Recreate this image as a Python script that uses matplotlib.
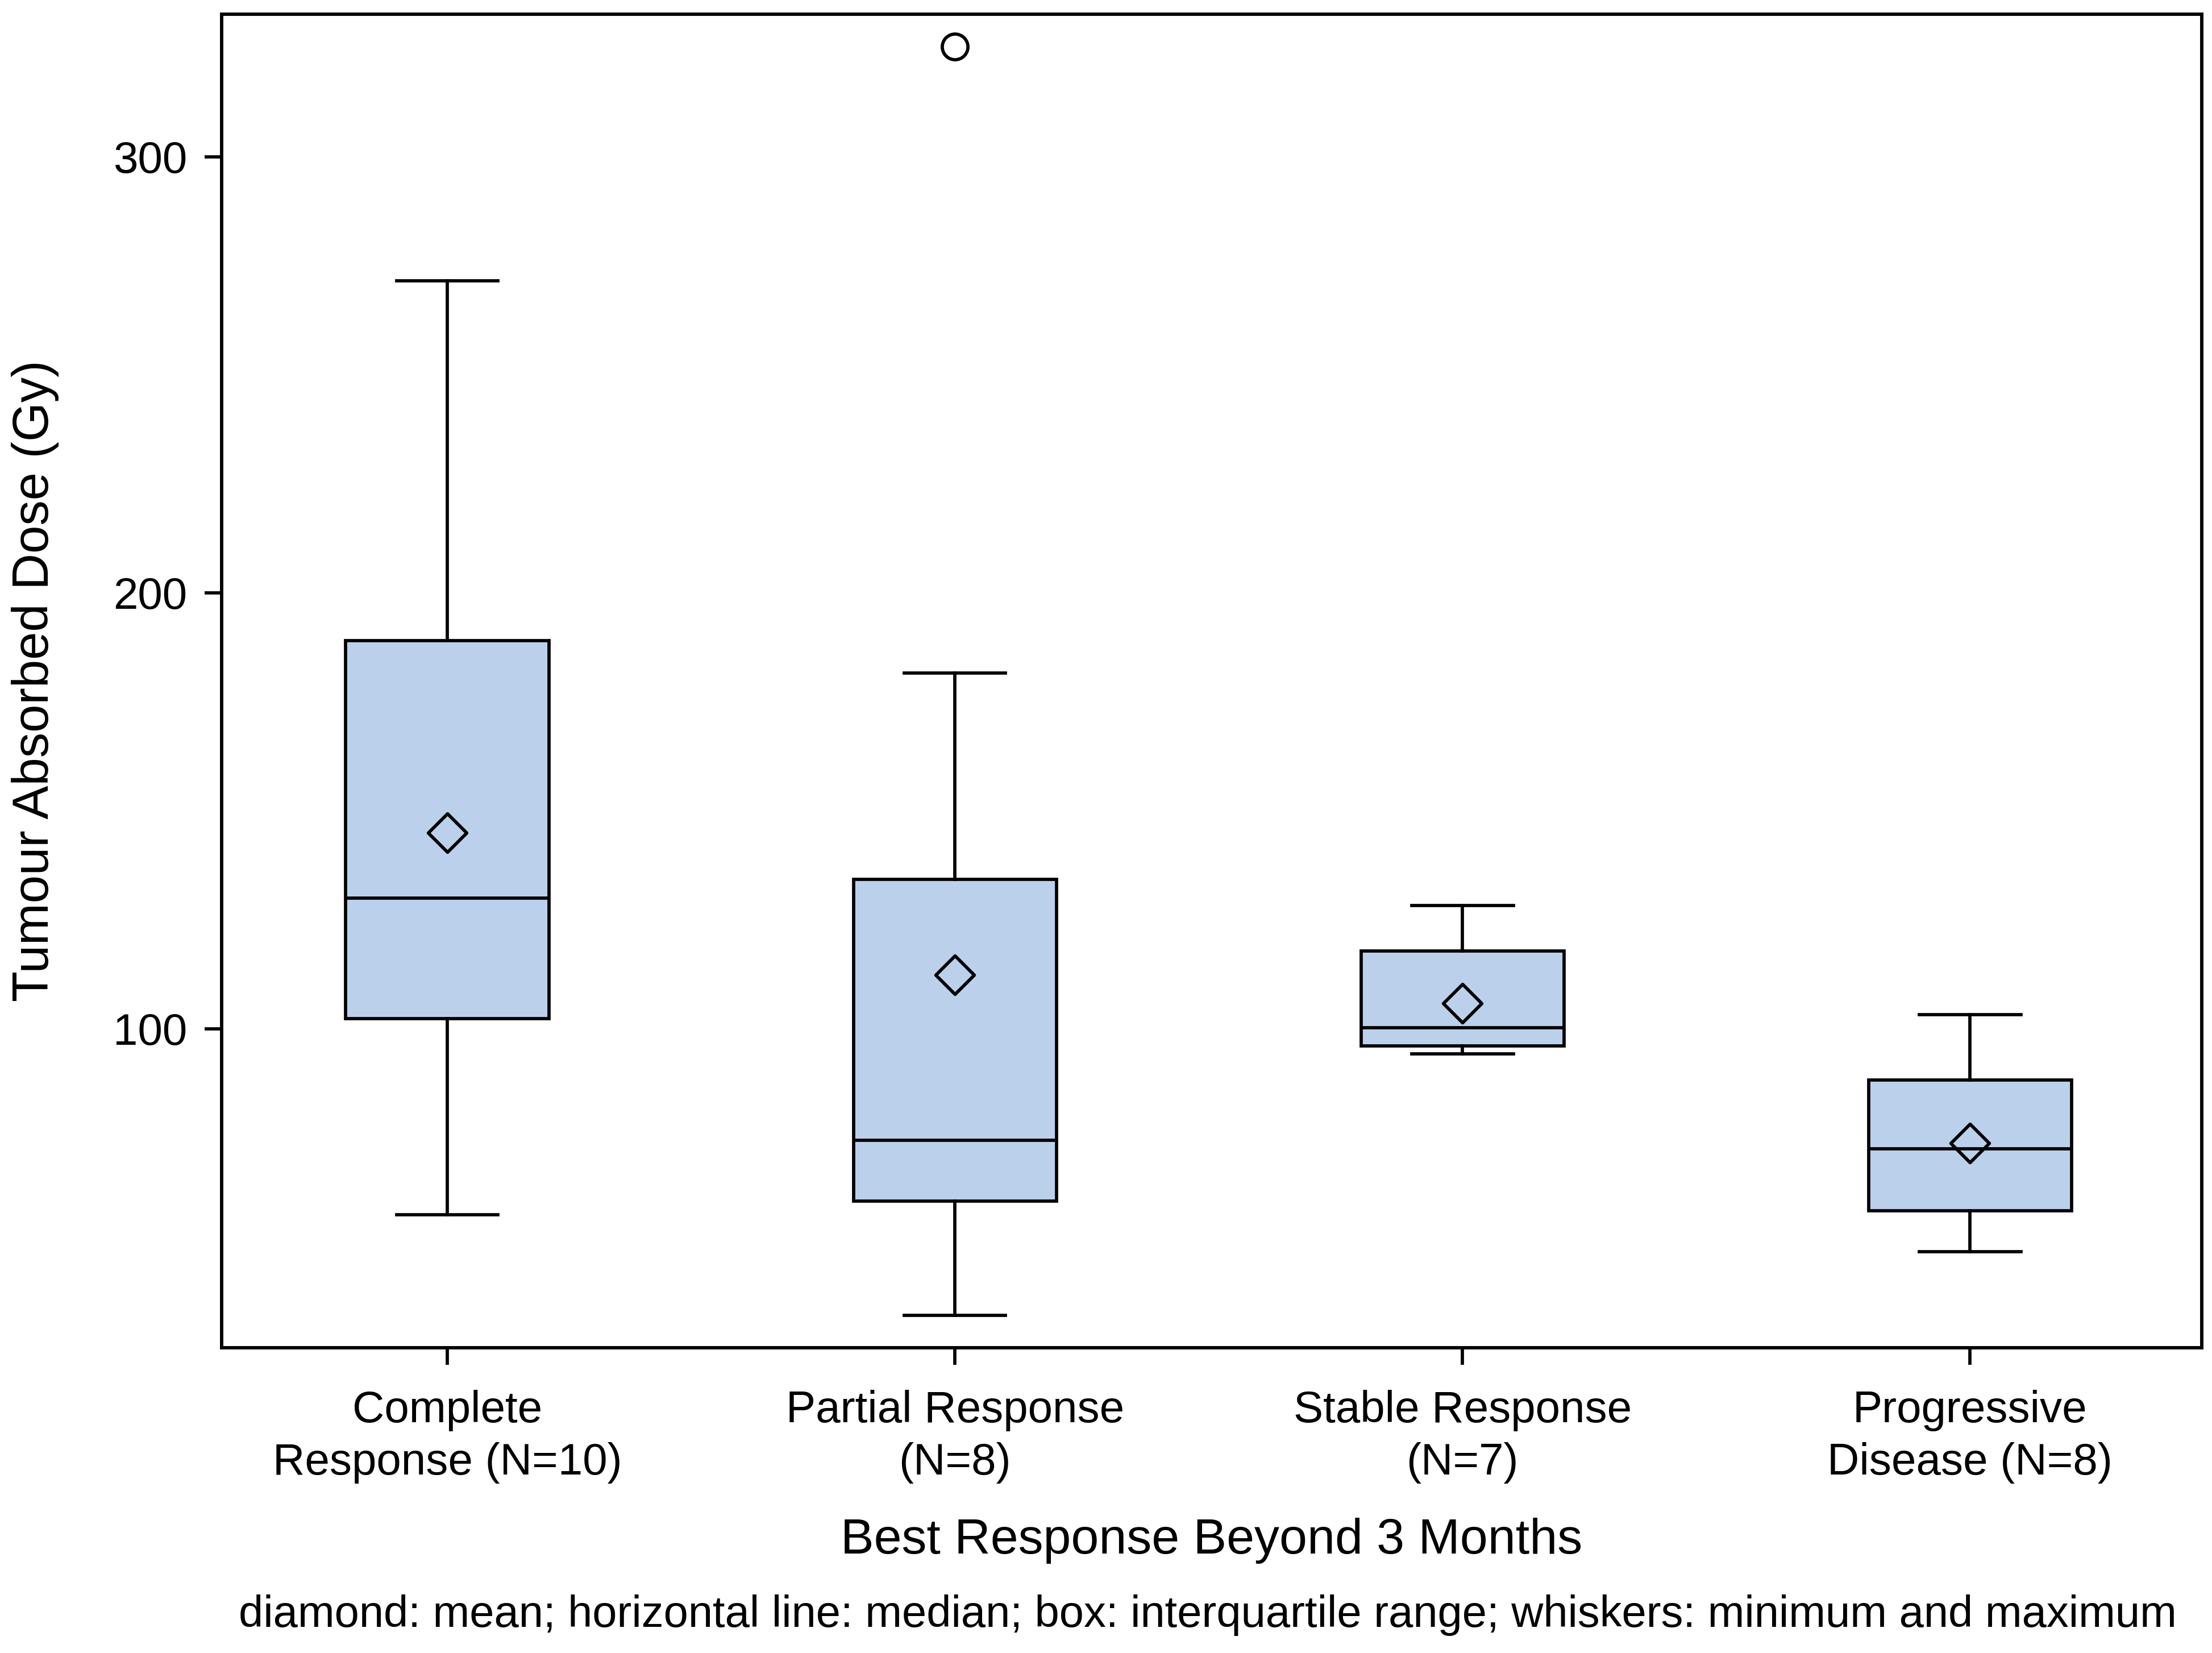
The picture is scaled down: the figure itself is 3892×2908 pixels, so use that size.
import matplotlib.pyplot as plt
from matplotlib.path import Path

plt.rcParams['font.family'] = ['Liberation Sans', 'DejaVu Sans']

# values (Gy)
groups = ["Complete\nResponse (N=10)", "Partial Response\n(N=8)",
          "Stable Response\n(N=7)", "Progressive\nDisease (N=8)"]
minimum = [57.3, 34.3, 94.2, 48.9]
q1 = [102.3, 60.5, 96.1, 58.3]
median = [130.0, 74.4, 100.3, 72.5]
q3 = [189.0, 134.3, 117.8, 88.3]
maximum = [271.5, 181.6, 128.2, 103.2]
means = [145.0, 112.3, 105.8, 73.8]
outliers = [[], [325.2], [], []]

stats = []
for i in range(len(groups)):
    stats.append({"whislo": minimum[i], "q1": q1[i], "med": median[i],
                  "q3": q3[i], "whishi": maximum[i], "mean": means[i],
                  "fliers": outliers[i], "label": groups[i]})

diamond = Path([(0, 1), (1, 0), (0, -1), (-1, 0), (0, 1)],
               [Path.MOVETO, Path.LINETO, Path.LINETO, Path.LINETO, Path.CLOSEPOLY])

fig = plt.figure(figsize=(15.568, 11.632), dpi=250)
ax = fig.add_axes([0.1001, 0.1848, 0.8954, 0.8067])

lw = 1.65
ax.bxp(stats, positions=[1, 2, 3, 4], widths=0.4, patch_artist=True,
       showmeans=True, showfliers=True,
       boxprops=dict(facecolor="#bbd1eb", edgecolor="black", linewidth=lw),
       medianprops=dict(color="black", linewidth=lw),
       whiskerprops=dict(color="black", linewidth=lw),
       capprops=dict(color="black", linewidth=lw),
       capwidths=0.2,
       meanprops=dict(marker=diamond, markersize=19.5, markerfacecolor="none",
                      markeredgecolor="black", markeredgewidth=lw),
       flierprops=dict(marker="o", markersize=13, markerfacecolor="none",
                       markeredgecolor="black", markeredgewidth=lw))

ax.set_xlim(0.555, 4.457)
ax.set_ylim(26.9, 332.7)
ax.set_yticks([100, 200, 300])
ax.tick_params(axis="both", labelsize=22.5, length=8.5, width=lw, color="black")
ax.tick_params(axis="x", pad=13)
ax.tick_params(axis="y", pad=9)
for lab in ax.get_xticklabels():
    lab.set_linespacing(1.33)
for sp in ax.spines.values():
    sp.set_linewidth(1.7)

ax.set_xlabel("Best Response Beyond 3 Months", fontsize=25.3)
ax.xaxis.label.set_va("center")
ax.xaxis.set_label_coords(0.5, -0.145)
ax.set_ylabel("Tumour Absorbed Dose (Gy)", fontsize=25.5)
ax.yaxis.label.set_va("center")
ax.yaxis.set_label_coords(-0.094, 0.5)

fig.text(0.984, 0.0227,
         "diamond: mean; horizontal line: median; box: interquartile range; whiskers: minimum and maximum",
         ha="right", va="center", fontsize=22.4)

fig.savefig("out.png", dpi=250)
